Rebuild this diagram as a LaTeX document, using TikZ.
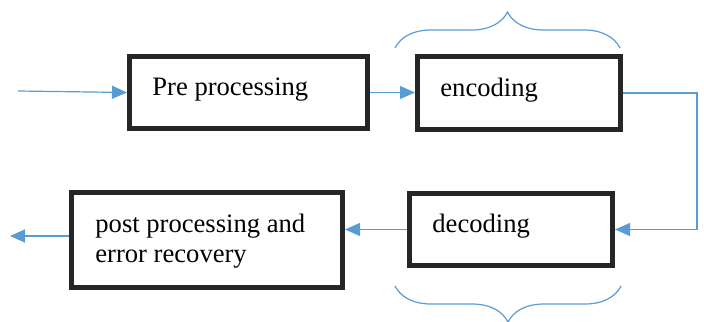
\documentclass[tikz,border=0pt]{standalone}
\usepackage{fontspec}
\setmainfont{Liberation Serif}
\usepackage{tikz}
\usetikzlibrary{arrows.meta,decorations.pathreplacing}
\definecolor{boxline}{HTML}{262626}
\definecolor{flow}{HTML}{5B9BD5}

\begin{document}
\begin{tikzpicture}[x=0.5pt,y=-0.5pt,
    blk/.style={draw=boxline,line width=2.5pt,minimum width=#1,inner sep=0pt},
    lbl/.style={anchor=base west,inner sep=0pt,align=left,font=\fontsize{13.3}{15}\selectfont},
    flowline/.style={draw=flow,line width=0.6pt,-{Triangle[length=7.5pt,width=6.5pt]}},
    grp/.style={draw=flow,line width=0.6pt,decorate,decoration={brace,amplitude=18pt}}]
      \useasboundingbox (0,0) rectangle (704,321);
      \node [blk=119pt,minimum height=36pt] (pre) at (248.5,92.5) {};
      \node [blk=101.5pt,minimum height=36.5pt] (enc) at (519,93) {};
      \node [blk=101.5pt,minimum height=36pt] (dec) at (511,229.5) {};
      \node [blk=135.5pt,minimum height=47.5pt] (post) at (207,240) {};
      \node [lbl] (pretxt) at (152,95.5) {Pre processing};
      \node [lbl] (enctxt) at (440,96.5) {encoding};
      \node [lbl] (dectxt) at (432,232) {decoding};
      \node [lbl] (posttxt) at (95,262) {post processing and\\error recovery};
      \coordinate (in) at (18,91);
      \coordinate (rt) at (697,0);
      \coordinate (out) at (10,236);
      \draw [flowline] (in) -- (pre.west);
      \draw [flowline] (pre.east) -- (pre.east -| enc.west);
      \draw [flowline] (enc.east) -| (rt |- dec.east) -- (dec.east);
      \draw [flowline] (dec.west) -- (dec.west -| post.east);
      \draw [flowline] (out -| post.west) -- (out);
      \draw [grp] (395,48) -- (620,48);
      \draw [grp] (621,286) -- (395,286);
    \end{tikzpicture}
\end{document}
